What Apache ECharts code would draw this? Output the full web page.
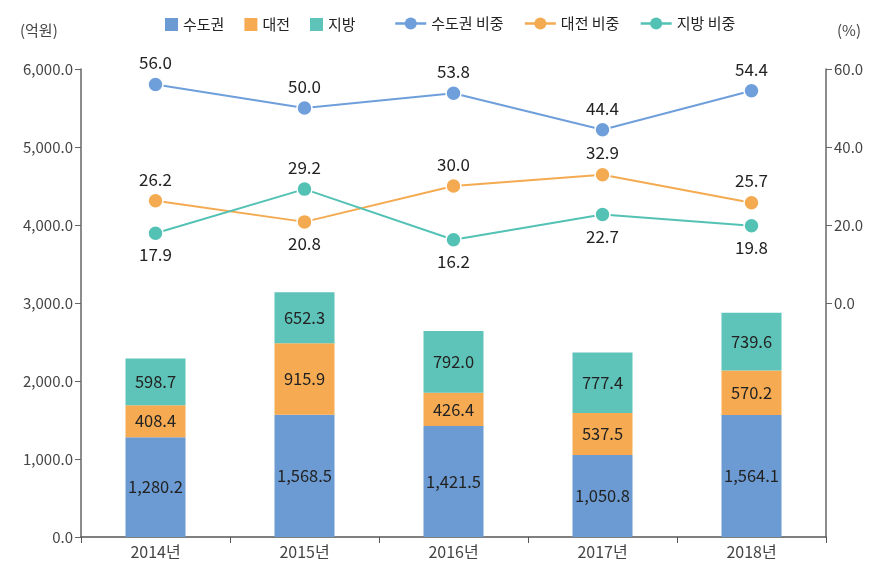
<!DOCTYPE html>
<html><head><meta charset="utf-8">
<script src="https://cdn.jsdelivr.net/npm/echarts@6/dist/echarts.min.js"></script>
<style>html,body{margin:0;padding:0;background:#fff}#c{width:893px;height:562px}</style>
</head><body><div id="c"></div>
<script>
const categories = ['2014년','2015년','2016년','2017년','2018년'];
const capital = [1280.2, 1568.5, 1421.5, 1050.8, 1564.1];
const daejeon = [408.4, 915.9, 426.4, 537.5, 570.2];
const regional = [598.7, 652.3, 792.0, 777.4, 739.6];
const capitalShare = [56.0, 50.0, 53.8, 44.4, 54.4];
const daejeonShare = [26.2, 20.8, 30.0, 32.9, 25.7];
const regionalShare = [17.9, 29.2, 16.2, 22.7, 19.8];
const daejeonLabelPos = ['top','bottom','top','top','top'];
const regionalLabelPos = ['bottom','top','bottom','bottom','bottom'];
const rightTicks = [0,20,40,60];

const FONT = 'Noto Sans CJK KR';
const C_BLUE = '#6b9bd2', C_ORANGE = '#f6ab52', C_TEAL = '#5ec3b8';
const LB = '#6f9fdb', LO = '#f4aa50', LT = '#53c2b5';

function fmt(v){ return v.toLocaleString('en-US',{minimumFractionDigits:1, maximumFractionDigits:1}); }

const barLabel = {show:true, position:'inside', color:'#222', fontSize:16.5, fontFamily:FONT, formatter:p=>fmt(p.value)};

function lineSeries(name, data, color, positions){
  return {
    name, type:'line', yAxisIndex:1, data: data.map((v,i)=>({value:v, label:{position: positions ? positions[i] : 'top'}})),
    symbol:'circle', symbolSize:15,
    lineStyle:{color, width:2},
    itemStyle:{color, borderColor:'#fff', borderWidth:1.5},
    label:{show:true, color:'#222', fontSize:17, fontFamily:FONT, distance:5, formatter:p=>p.value.toFixed(1)},
    z:5
  };
}

const chart = echarts.init(document.getElementById('c'));
chart.setOption({
  animation:false,
  textStyle:{fontFamily:FONT},
  grid:{left:81, right:67, top:69, bottom:25},
  legend:[
    {data:['수도권','대전','지방'], left:160, top:12, itemWidth:13, itemHeight:13, itemGap:20,
     textStyle:{fontSize:15, color:'#222', fontFamily:FONT}, icon:'rect'},
    {data:['수도권 비중','대전 비중','지방 비중'], left:389, top:11, itemWidth:31, itemHeight:15, itemGap:20,
     lineStyle:{width:2.5}, itemStyle:{borderWidth:0},
     textStyle:{fontSize:15, color:'#222', fontFamily:FONT}}
  ],
  graphic:[
    {type:'text', left:20, top:23, style:{text:'(억원)', fontSize:15, fill:'#444', fontFamily:FONT}},
    {type:'text', left:837, top:23, style:{text:'(%)', fontSize:15, fill:'#444', fontFamily:FONT}}
  ],
  xAxis:{type:'category', data:categories,
    axisLine:{lineStyle:{color:'#555', width:1.5}},
    axisTick:{show:true, length:6, lineStyle:{color:'#555'}},
    axisLabel:{color:'#444', fontSize:16, margin:7, fontFamily:FONT}},
  yAxis:[
    {type:'value', min:0, max:6000, interval:1000,
     axisLine:{show:true, lineStyle:{color:'#666', width:1.5}},
     axisTick:{show:true, length:6, lineStyle:{color:'#666'}},
     splitLine:{show:false},
     axisLabel:{color:'#444', fontSize:15, margin:8, fontFamily:FONT, formatter:v=>fmt(v)}},
    {type:'value', min:-60, max:60, interval:20, position:'right',
     axisLine:{show:true, lineStyle:{color:'#666', width:1.5}},
     axisTick:{show:true, length:6, customValues:rightTicks, lineStyle:{color:'#666'}},
     splitLine:{show:false},
     axisLabel:{color:'#444', fontSize:15, margin:8, fontFamily:FONT, customValues:rightTicks, formatter:v=>v>=0?fmt(v):''}}
  ],
  series:[
    {name:'수도권', type:'bar', stack:'a', data:capital, barWidth:60, itemStyle:{color:C_BLUE}, label:barLabel},
    {name:'대전', type:'bar', stack:'a', data:daejeon, barWidth:60, itemStyle:{color:C_ORANGE}, label:barLabel},
    {name:'지방', type:'bar', stack:'a', data:regional, barWidth:60, itemStyle:{color:C_TEAL}, label:barLabel},
    lineSeries('수도권 비중', capitalShare, LB, null),
    lineSeries('대전 비중', daejeonShare, LO, daejeonLabelPos),
    lineSeries('지방 비중', regionalShare, LT, regionalLabelPos)
  ]
});
</script></body></html>
